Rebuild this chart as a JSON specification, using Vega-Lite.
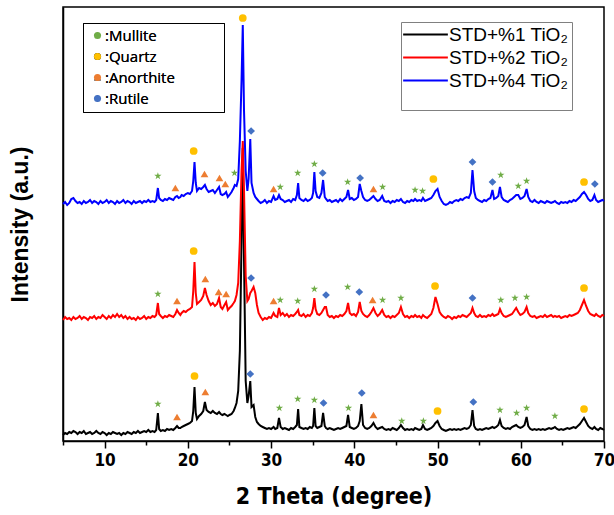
{
"$schema": "https://vega.github.io/schema/vega-lite/v6.json",
"width": 541, "height": 434,
"autosize": "none",
"padding": {"left": 63, "top": 7, "right": 10, "bottom": 74},
"background": "white",
"config": {"view": {"stroke": "black", "strokeWidth": 1.5}, "axis": {"grid": false}},
"datasets": {
"xrd": [
{"x":5.0,"b":6,"r":121,"u":237},{"x":5.25,"b":8,"r":124,"u":239},{"x":5.5,"b":7,"r":122,"u":236},{"x":5.75,"b":9,"r":123,"u":238},
{"x":6.0,"b":8,"r":121,"u":242},{"x":6.25,"b":10,"r":124,"u":243},{"x":6.5,"b":9,"r":122,"u":240},{"x":6.75,"b":7,"r":123,"u":238},
{"x":7.0,"b":9,"r":125,"u":239},{"x":7.25,"b":8,"r":122,"u":237},{"x":7.5,"b":10,"r":124,"u":240},{"x":7.75,"b":7,"r":123,"u":238},
{"x":8.0,"b":8,"r":121,"u":239},{"x":8.25,"b":9,"r":124,"u":241},{"x":8.5,"b":7,"r":123,"u":238},{"x":8.75,"b":8,"r":125,"u":240},
{"x":9.0,"b":10,"r":122,"u":239},{"x":9.25,"b":8,"r":124,"u":237},{"x":9.5,"b":7,"r":123,"u":240},{"x":9.75,"b":9,"r":126,"u":238},
{"x":10.0,"b":8,"r":124,"u":239},{"x":10.25,"b":6,"r":122,"u":241},{"x":10.5,"b":8,"r":125,"u":238},{"x":10.75,"b":7,"r":123,"u":240},
{"x":11.0,"b":9,"r":126,"u":239},{"x":11.25,"b":8,"r":124,"u":237},{"x":11.5,"b":7,"r":127,"u":240},{"x":11.75,"b":8,"r":124,"u":238},
{"x":12.0,"b":6,"r":126,"u":239},{"x":12.25,"b":8,"r":123,"u":241},{"x":12.5,"b":7,"r":125,"u":238},{"x":12.75,"b":9,"r":122,"u":240},
{"x":13.0,"b":8,"r":124,"u":239},{"x":13.25,"b":7,"r":122,"u":237},{"x":13.5,"b":9,"r":123,"u":240},{"x":13.75,"b":8,"r":121,"u":238},
{"x":14.0,"b":10,"r":124,"u":239},{"x":14.25,"b":8,"r":122,"u":240},{"x":14.5,"b":9,"r":123,"u":238},{"x":14.75,"b":10,"r":125,"u":240},
{"x":15.0,"b":9,"r":122,"u":239},{"x":15.25,"b":11,"r":124,"u":241},{"x":15.5,"b":9,"r":123,"u":239},{"x":15.75,"b":10,"r":125,"u":240},
{"x":16.0,"b":9,"r":124,"u":239},{"x":16.2,"b":11,"r":126,"u":241},{"x":16.4,"b":28,"r":138,"u":253},{"x":16.55,"b":12,"r":127,"u":243},
{"x":16.75,"b":10,"r":125,"u":241},{"x":17.0,"b":11,"r":123,"u":240},{"x":17.25,"b":10,"r":125,"u":242},{"x":17.5,"b":12,"r":124,"u":241},
{"x":17.75,"b":11,"r":126,"u":243},{"x":18.0,"b":12,"r":125,"u":242},{"x":18.25,"b":11,"r":124,"u":241},{"x":18.5,"b":13,"r":127,"u":244},
{"x":18.7,"b":15,"r":131,"u":245},{"x":18.9,"b":13,"r":128,"u":243},{"x":19.1,"b":13,"r":126,"u":244},{"x":19.25,"b":14,"r":128,"u":246},
{"x":19.5,"b":15,"r":130,"u":245},{"x":19.75,"b":16,"r":129,"u":247},{"x":20.0,"b":17,"r":131,"u":248},{"x":20.25,"b":18,"r":132,"u":247},
{"x":20.5,"b":20,"r":134,"u":250},{"x":20.65,"b":30,"r":150,"u":260},{"x":20.8,"b":54,"r":179,"u":279},{"x":20.95,"b":28,"r":148,"u":258},
{"x":21.1,"b":22,"r":137,"u":250},{"x":21.35,"b":25,"r":139,"u":253},{"x":21.6,"b":27,"r":141,"u":252},{"x":21.85,"b":30,"r":145,"u":254},
{"x":22.05,"b":39,"r":153,"u":256},{"x":22.25,"b":31,"r":146,"u":252},{"x":22.5,"b":29,"r":140,"u":249},{"x":22.75,"b":28,"r":136,"u":250},
{"x":23.0,"b":30,"r":138,"u":251},{"x":23.25,"b":28,"r":135,"u":248},{"x":23.5,"b":27,"r":137,"u":251},{"x":23.75,"b":29,"r":143,"u":254},
{"x":23.95,"b":27,"r":134,"u":247},{"x":24.15,"b":26,"r":132,"u":246},{"x":24.4,"b":27,"r":136,"u":247},{"x":24.6,"b":26,"r":139,"u":249},
{"x":24.8,"b":25,"r":131,"u":244},{"x":25.0,"b":26,"r":133,"u":246},{"x":25.25,"b":27,"r":135,"u":249},{"x":25.5,"b":30,"r":138,"u":253},
{"x":25.65,"b":33,"r":140,"u":256},{"x":25.85,"b":38,"r":146,"u":255},{"x":26.05,"b":50,"r":158,"u":262},{"x":26.25,"b":90,"r":200,"u":300},
{"x":26.45,"b":200,"r":270,"u":360},{"x":26.6,"b":293,"r":300,"u":416},{"x":26.75,"b":180,"r":250,"u":330},{"x":26.95,"b":60,"r":165,"u":270},
{"x":27.15,"b":38,"r":140,"u":250},{"x":27.3,"b":45,"r":142,"u":262},{"x":27.5,"b":60,"r":148,"u":302},{"x":27.65,"b":34,"r":150,"u":258},
{"x":27.9,"b":36,"r":154,"u":248},{"x":28.1,"b":24,"r":148,"u":244},{"x":28.3,"b":19,"r":136,"u":242},{"x":28.5,"b":17,"r":128,"u":240},
{"x":28.75,"b":15,"r":124,"u":238},{"x":29.0,"b":14,"r":121,"u":239},{"x":29.25,"b":13,"r":123,"u":241},{"x":29.5,"b":12,"r":122,"u":238},
{"x":29.75,"b":13,"r":124,"u":240},{"x":30.0,"b":12,"r":123,"u":239},{"x":30.3,"b":14,"r":128,"u":245},{"x":30.5,"b":12,"r":125,"u":241},
{"x":30.75,"b":13,"r":124,"u":242},{"x":30.95,"b":23,"r":133,"u":246},{"x":31.15,"b":14,"r":126,"u":242},{"x":31.4,"b":12,"r":128,"u":241},
{"x":31.65,"b":13,"r":125,"u":239},{"x":31.9,"b":12,"r":127,"u":240},{"x":32.15,"b":11,"r":124,"u":241},{"x":32.4,"b":13,"r":126,"u":239},
{"x":32.65,"b":12,"r":125,"u":242},{"x":32.9,"b":14,"r":127,"u":241},{"x":33.1,"b":16,"r":129,"u":246},{"x":33.25,"b":32,"r":131,"u":258},
{"x":33.4,"b":14,"r":126,"u":243},{"x":33.65,"b":13,"r":125,"u":241},{"x":33.9,"b":12,"r":127,"u":240},{"x":34.15,"b":13,"r":124,"u":242},
{"x":34.4,"b":12,"r":126,"u":240},{"x":34.65,"b":14,"r":125,"u":241},{"x":34.9,"b":13,"r":128,"u":243},{"x":35.05,"b":15,"r":133,"u":248},
{"x":35.2,"b":33,"r":143,"u":269},{"x":35.35,"b":15,"r":132,"u":250},{"x":35.55,"b":13,"r":127,"u":244},{"x":35.8,"b":14,"r":126,"u":243},
{"x":36.05,"b":15,"r":128,"u":248},{"x":36.25,"b":28,"r":131,"u":261},{"x":36.45,"b":15,"r":134,"u":244},{"x":36.6,"b":13,"r":134,"u":242},
{"x":36.8,"b":12,"r":126,"u":240},{"x":37.05,"b":13,"r":124,"u":241},{"x":37.3,"b":12,"r":125,"u":239},{"x":37.55,"b":11,"r":123,"u":240},
{"x":37.8,"b":12,"r":125,"u":241},{"x":38.05,"b":13,"r":124,"u":239},{"x":38.3,"b":12,"r":126,"u":242},{"x":38.55,"b":13,"r":125,"u":240},
{"x":38.8,"b":14,"r":127,"u":242},{"x":39.05,"b":15,"r":130,"u":244},{"x":39.25,"b":26,"r":138,"u":251},{"x":39.45,"b":14,"r":128,"u":242},
{"x":39.7,"b":13,"r":126,"u":243},{"x":39.95,"b":12,"r":127,"u":241},{"x":40.2,"b":13,"r":125,"u":242},{"x":40.45,"b":15,"r":129,"u":244},
{"x":40.65,"b":20,"r":139,"u":257},{"x":40.85,"b":37,"r":130,"u":250},{"x":41.05,"b":16,"r":127,"u":244},{"x":41.3,"b":13,"r":125,"u":241},
{"x":41.55,"b":12,"r":124,"u":240},{"x":41.8,"b":13,"r":126,"u":241},{"x":42.05,"b":15,"r":129,"u":243},{"x":42.3,"b":18,"r":133,"u":245},
{"x":42.55,"b":14,"r":128,"u":242},{"x":42.8,"b":12,"r":125,"u":240},{"x":43.05,"b":13,"r":127,"u":241},{"x":43.35,"b":14,"r":131,"u":245},
{"x":43.6,"b":12,"r":126,"u":240},{"x":43.85,"b":11,"r":124,"u":239},{"x":44.1,"b":12,"r":125,"u":240},{"x":44.35,"b":11,"r":123,"u":238},
{"x":44.6,"b":13,"r":125,"u":240},{"x":44.85,"b":12,"r":124,"u":239},{"x":45.1,"b":11,"r":126,"u":241},{"x":45.35,"b":13,"r":128,"u":240},
{"x":45.6,"b":16,"r":134,"u":242},{"x":45.85,"b":13,"r":127,"u":239},{"x":46.1,"b":11,"r":124,"u":238},{"x":46.35,"b":12,"r":125,"u":240},
{"x":46.6,"b":11,"r":123,"u":239},{"x":46.85,"b":12,"r":125,"u":241},{"x":47.1,"b":11,"r":124,"u":240},{"x":47.3,"b":13,"r":126,"u":242},
{"x":47.55,"b":12,"r":124,"u":240},{"x":47.8,"b":11,"r":125,"u":241},{"x":48.05,"b":12,"r":123,"u":240},{"x":48.25,"b":16,"r":126,"u":243},
{"x":48.5,"b":12,"r":124,"u":240},{"x":48.75,"b":11,"r":123,"u":241},{"x":49.0,"b":12,"r":125,"u":242},{"x":49.25,"b":13,"r":127,"u":243},
{"x":49.5,"b":15,"r":133,"u":246},{"x":49.75,"b":18,"r":144,"u":250},{"x":50.0,"b":20,"r":137,"u":252},{"x":50.25,"b":15,"r":129,"u":244},
{"x":50.5,"b":12,"r":126,"u":240},{"x":50.75,"b":11,"r":124,"u":237},{"x":51.0,"b":10,"r":123,"u":236},{"x":51.25,"b":11,"r":125,"u":237},
{"x":51.5,"b":12,"r":124,"u":239},{"x":51.75,"b":11,"r":122,"u":238},{"x":52.0,"b":12,"r":124,"u":240},{"x":52.25,"b":11,"r":123,"u":241},
{"x":52.5,"b":12,"r":125,"u":240},{"x":52.75,"b":11,"r":124,"u":242},{"x":53.0,"b":12,"r":126,"u":241},{"x":53.25,"b":13,"r":125,"u":243},
{"x":53.5,"b":12,"r":124,"u":244},{"x":53.75,"b":13,"r":126,"u":243},{"x":54.0,"b":16,"r":128,"u":248},{"x":54.2,"b":31,"r":133,"u":271},
{"x":54.4,"b":15,"r":128,"u":250},{"x":54.6,"b":12,"r":125,"u":243},{"x":54.85,"b":11,"r":124,"u":241},{"x":55.1,"b":12,"r":126,"u":240},
{"x":55.35,"b":11,"r":124,"u":239},{"x":55.6,"b":12,"r":125,"u":241},{"x":55.85,"b":13,"r":124,"u":240},{"x":56.1,"b":12,"r":126,"u":242},
{"x":56.35,"b":13,"r":125,"u":243},{"x":56.6,"b":14,"r":127,"u":251},{"x":56.8,"b":13,"r":125,"u":242},{"x":57.05,"b":14,"r":126,"u":243},
{"x":57.3,"b":16,"r":127,"u":245},{"x":57.5,"b":21,"r":132,"u":254},{"x":57.7,"b":15,"r":128,"u":244},{"x":57.95,"b":13,"r":125,"u":241},
{"x":58.2,"b":12,"r":124,"u":240},{"x":58.45,"b":13,"r":125,"u":239},{"x":58.7,"b":12,"r":126,"u":241},{"x":58.95,"b":14,"r":127,"u":242},
{"x":59.2,"b":15,"r":130,"u":244},{"x":59.45,"b":16,"r":133,"u":246},{"x":59.7,"b":14,"r":129,"u":246},{"x":59.95,"b":13,"r":126,"u":242},
{"x":60.2,"b":14,"r":127,"u":243},{"x":60.45,"b":16,"r":129,"u":245},{"x":60.7,"b":24,"r":134,"u":252},{"x":60.9,"b":15,"r":128,"u":244},
{"x":61.15,"b":12,"r":125,"u":240},{"x":61.4,"b":11,"r":124,"u":239},{"x":61.65,"b":12,"r":125,"u":241},{"x":61.9,"b":11,"r":123,"u":239},
{"x":62.15,"b":12,"r":124,"u":238},{"x":62.4,"b":11,"r":125,"u":240},{"x":62.65,"b":12,"r":124,"u":239},{"x":62.9,"b":11,"r":126,"u":238},
{"x":63.15,"b":12,"r":124,"u":240},{"x":63.4,"b":13,"r":125,"u":239},{"x":63.65,"b":12,"r":126,"u":238},{"x":63.9,"b":13,"r":124,"u":239},
{"x":64.1,"b":14,"r":125,"u":240},{"x":64.35,"b":12,"r":124,"u":238},{"x":64.6,"b":11,"r":125,"u":237},{"x":64.85,"b":12,"r":123,"u":239},
{"x":65.1,"b":11,"r":124,"u":238},{"x":65.35,"b":12,"r":125,"u":239},{"x":65.6,"b":13,"r":124,"u":238},{"x":65.85,"b":12,"r":126,"u":240},
{"x":66.1,"b":13,"r":125,"u":239},{"x":66.35,"b":14,"r":126,"u":241},{"x":66.6,"b":13,"r":127,"u":240},{"x":66.85,"b":15,"r":128,"u":242},
{"x":67.1,"b":17,"r":131,"u":244},{"x":67.35,"b":20,"r":136,"u":247},{"x":67.6,"b":23,"r":141,"u":249},{"x":67.85,"b":19,"r":135,"u":246},
{"x":68.1,"b":15,"r":130,"u":242},{"x":68.35,"b":13,"r":127,"u":240},{"x":68.6,"b":12,"r":126,"u":241},{"x":68.85,"b":14,"r":125,"u":246},
{"x":69.05,"b":12,"r":127,"u":241},{"x":69.3,"b":11,"r":125,"u":239},{"x":69.55,"b":13,"r":124,"u":240},{"x":69.8,"b":12,"r":126,"u":241},
{"x":70.0,"b":11,"r":125,"u":240}
],
"marks": [
{"x":16.4,"v":37,"phase":"Mullite"},{"x":18.7,"v":24,"phase":"Anorthite"},{"x":20.8,"v":65,"phase":"Quartz"},{"x":22.1,"v":49,"phase":"Anorthite"},
{"x":27.5,"v":67,"phase":"Rutile"},{"x":31.0,"v":33,"phase":"Mullite"},{"x":33.2,"v":42,"phase":"Mullite"},{"x":35.2,"v":41,"phase":"Mullite"},
{"x":36.3,"v":38,"phase":"Rutile"},{"x":39.3,"v":33,"phase":"Mullite"},{"x":40.9,"v":48,"phase":"Rutile"},{"x":42.3,"v":26,"phase":"Anorthite"},
{"x":45.7,"v":20,"phase":"Mullite"},{"x":48.3,"v":20,"phase":"Mullite"},{"x":50.0,"v":30,"phase":"Quartz"},{"x":54.3,"v":39,"phase":"Rutile"},
{"x":57.5,"v":31,"phase":"Mullite"},{"x":59.5,"v":28,"phase":"Mullite"},{"x":60.7,"v":33,"phase":"Mullite"},{"x":64.1,"v":25,"phase":"Mullite"},
{"x":67.6,"v":32,"phase":"Quartz"},
{"x":16.4,"v":147,"phase":"Mullite"},{"x":18.7,"v":140,"phase":"Anorthite"},{"x":20.7,"v":190,"phase":"Quartz"},{"x":22.1,"v":162,"phase":"Anorthite"},
{"x":23.7,"v":149,"phase":"Anorthite"},{"x":24.6,"v":147,"phase":"Anorthite"},{"x":27.6,"v":163,"phase":"Rutile"},{"x":30.3,"v":140,"phase":"Anorthite"},
{"x":31.1,"v":141,"phase":"Mullite"},{"x":33.2,"v":140,"phase":"Mullite"},{"x":35.2,"v":152,"phase":"Mullite"},{"x":36.6,"v":146,"phase":"Rutile"},
{"x":39.2,"v":154,"phase":"Mullite"},{"x":40.6,"v":149,"phase":"Rutile"},{"x":42.2,"v":141,"phase":"Anorthite"},{"x":43.4,"v":141,"phase":"Mullite"},
{"x":45.6,"v":143,"phase":"Mullite"},{"x":49.7,"v":155,"phase":"Quartz"},{"x":54.2,"v":143,"phase":"Rutile"},{"x":57.6,"v":141,"phase":"Mullite"},
{"x":59.3,"v":143,"phase":"Mullite"},{"x":60.7,"v":144,"phase":"Mullite"},{"x":67.6,"v":153,"phase":"Quartz"},
{"x":16.4,"v":265,"phase":"Mullite"},{"x":18.5,"v":253,"phase":"Anorthite"},{"x":20.7,"v":290,"phase":"Quartz"},{"x":22.0,"v":267,"phase":"Anorthite"},
{"x":23.8,"v":263,"phase":"Anorthite"},{"x":24.5,"v":257,"phase":"Anorthite"},{"x":25.6,"v":268,"phase":"Mullite"},{"x":26.6,"v":423,"phase":"Quartz"},
{"x":27.6,"v":310,"phase":"Rutile"},{"x":30.3,"v":252,"phase":"Anorthite"},{"x":31.1,"v":254,"phase":"Mullite"},{"x":33.2,"v":268,"phase":"Mullite"},
{"x":35.2,"v":277,"phase":"Mullite"},{"x":36.2,"v":268,"phase":"Rutile"},{"x":39.2,"v":259,"phase":"Mullite"},{"x":40.7,"v":263,"phase":"Rutile"},
{"x":42.3,"v":252,"phase":"Anorthite"},{"x":43.4,"v":254,"phase":"Mullite"},{"x":47.3,"v":251,"phase":"Mullite"},{"x":48.2,"v":250,"phase":"Mullite"},
{"x":49.5,"v":262,"phase":"Quartz"},{"x":54.2,"v":279,"phase":"Rutile"},{"x":56.6,"v":259,"phase":"Rutile"},{"x":57.6,"v":266,"phase":"Mullite"},
{"x":59.7,"v":255,"phase":"Mullite"},{"x":60.7,"v":260,"phase":"Mullite"},{"x":67.6,"v":259,"phase":"Quartz"},{"x":68.9,"v":257,"phase":"Rutile"}
]
},
"layer": [
{
"data": {"name": "xrd"},
"transform": [{"fold": ["b", "r", "u"], "as": ["series", "v"]}],
"mark": {"type": "line", "strokeWidth": 2},
"encoding": {
"x": {"field": "x", "type": "quantitative", "scale": {"domain": [5, 70], "nice": false, "zero": false},
"axis": {"orient": "bottom", "values": [10, 20, 30, 40, 50, 60, 70], "title": "2 Theta (degree)", "labelFlush": false,
"labelFont": "Liberation Sans Narrow, DejaVu Sans Condensed, sans-serif", "labelFontWeight": "bold", "labelFontSize": 17, "labelColor": "black", "labelPadding": 4,
"tickColor": "black", "tickSize": 7, "tickWidth": 1.5, "domainColor": "black", "domainWidth": 1.5,
"titleFont": "Liberation Sans Narrow, DejaVu Sans Condensed, sans-serif", "titleFontWeight": "bold", "titleFontSize": 23, "titleColor": "black", "titlePadding": 17}},
"y": {"field": "v", "type": "quantitative", "scale": {"domain": [0, 434], "nice": false, "zero": false},
"axis": {"title": "Intensity (a.u.)", "labels": false, "ticks": false, "domainColor": "black", "domainWidth": 1.5,
"titleFont": "Liberation Sans, Arial, sans-serif", "titleFontWeight": "bold", "titleFontSize": 23, "titleColor": "black", "titlePadding": 31}},
"color": {"field": "series", "type": "nominal",
"scale": {"domain": ["b", "r", "u"], "range": ["#000000", "#ff0000", "#0000ff"]},
"legend": {"orient": "none", "legendX": 338, "legendY": 15, "title": "\u2800", "titleOrient": "bottom", "titleFontSize": 14, "titlePadding": 2, "titleColor": "white",
"labelExpr": "datum.label == 'b' ? 'STD+%1 TiO₂' : datum.label == 'r' ? 'STD+%2 TiO₂' : 'STD+%4 TiO₂'",
"symbolType": "M-5,0H5", "symbolSize": 80, "symbolStrokeWidth": 2, "symbolOffset": 12, "labelOffset": 14,
"labelFont": "Liberation Sans, Arial, sans-serif", "labelFontSize": 19, "labelFontWeight": "normal", "labelColor": "black",
"strokeColor": "#808080", "padding": 3, "rowPadding": 3}}
}
},
{
"data": {"name": "marks"},
"mark": {"type": "point", "filled": true, "opacity": 1, "size": 60},
"encoding": {
"x": {"field": "x", "type": "quantitative", "scale": {"domain": [5, 70], "nice": false, "zero": false},
"axis": {"orient": "bottom", "values": [5, 15, 25, 35, 45, 55, 65], "labels": false, "title": null, "tickColor": "black", "tickSize": 4, "tickWidth": 1.5, "domain": false}},
"y": {"field": "v", "type": "quantitative", "scale": {"domain": [0, 434], "nice": false, "zero": false}, "axis": null},
"color": {"field": "phase", "type": "nominal",
"scale": {"domain": ["Mullite", "Quartz", "Anorthite", "Rutile"], "range": ["#70AD47", "#FFC000", "#ED7D31", "#4472C4"]},
"legend": {"orient": "none", "legendX": 20, "legendY": 16, "title": null,
"labelExpr": "datum.label == 'Anorthite' ? ':Anorthite\u2800\u2800\u2800\u2800' : ':' + datum.label",
"labelFont": "Open Sans, DejaVu Sans, sans-serif", "labelFontSize": 15, "labelFontWeight": "normal", "labelColor": "black", "symbolSize": 50, "symbolOffset": 2, "labelOffset": 0,
"strokeColor": "black", "padding": 5, "rowPadding": 5}},
"shape": {"field": "phase", "type": "nominal",
"scale": {"domain": ["Mullite", "Quartz", "Anorthite", "Rutile"], "range": ["M0,-1L0.2245,-0.309L0.9511,-0.309L0.3633,0.118L0.5878,0.809L0,0.382L-0.5878,0.809L-0.3633,0.118L-0.9511,-0.309L-0.2245,-0.309Z", "circle", "triangle-up", "diamond"]},
"legend": {"orient": "none", "legendX": 20, "legendY": 16, "title": null,
"labelExpr": "datum.label == 'Anorthite' ? ':Anorthite\u2800\u2800\u2800\u2800' : ':' + datum.label",
"labelFont": "Open Sans, DejaVu Sans, sans-serif", "labelFontSize": 15, "labelFontWeight": "normal", "labelColor": "black", "symbolSize": 50, "symbolOffset": 2, "labelOffset": 0,
"strokeColor": "black", "padding": 5, "rowPadding": 5}}
}
}
],
"resolve": {"scale": {"color": "independent"}, "axis": {"x": "independent", "y": "independent"}}
}
